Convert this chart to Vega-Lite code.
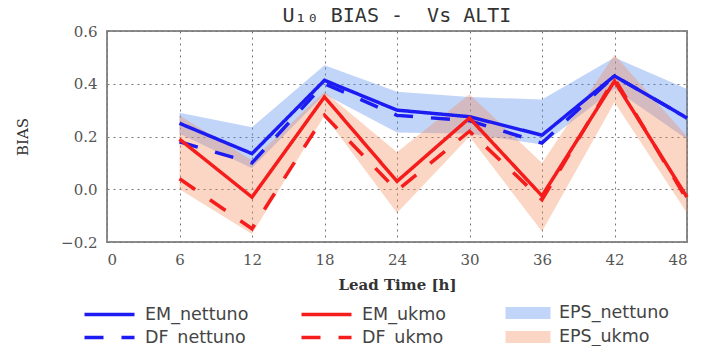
{
  "$schema": "https://vega.github.io/schema/vega-lite/v6.json",
  "autosize": "none",
  "width": 580,
  "height": 211,
  "padding": {"left": 107, "top": 31, "right": 16, "bottom": 104},
  "title": {"text": "U₁₀ BIAS -\u00a0\u00a0Vs ALTI", "font": "DejaVu Sans Mono", "fontSize": 20, "fontWeight": "normal", "color": "#333", "offset": -2},
  "config": {
    "view": {"stroke": "#8c8c8c", "strokeWidth": 2},
    "axis": {
      "labelFont": "DejaVu Serif", "labelFontSize": 15, "labelColor": "#555",
      "titleFont": "DejaVu Serif", "titleFontSize": 15, "titleColor": "#333", "titleFontWeight": "bold",
      "grid": true, "gridDash": [2, 4], "gridColor": "#777", "gridWidth": 1,
      "domain": false, "ticks": false,
      "labelPadding": 10
    },
    "legend": {"labelFont": "DejaVu Sans", "labelFontSize": 17.5, "labelColor": "#444", "padding": 0, "rowPadding": 0}
  },
  "data": {"values": [
    {"t": 6, "series": "EM_nettuno", "value": 0.25},
    {"t": 12, "series": "EM_nettuno", "value": 0.135},
    {"t": 18, "series": "EM_nettuno", "value": 0.413},
    {"t": 24, "series": "EM_nettuno", "value": 0.30},
    {"t": 30, "series": "EM_nettuno", "value": 0.275},
    {"t": 36, "series": "EM_nettuno", "value": 0.205},
    {"t": 42, "series": "EM_nettuno", "value": 0.43},
    {"t": 48, "series": "EM_nettuno", "value": 0.27},
    {"t": 6, "series": "DF_nettuno", "value": 0.18},
    {"t": 12, "series": "DF_nettuno", "value": 0.10},
    {"t": 18, "series": "DF_nettuno", "value": 0.40},
    {"t": 24, "series": "DF_nettuno", "value": 0.28},
    {"t": 30, "series": "DF_nettuno", "value": 0.26},
    {"t": 36, "series": "DF_nettuno", "value": 0.175},
    {"t": 42, "series": "DF_nettuno", "value": 0.43},
    {"t": 48, "series": "DF_nettuno", "value": 0.27},
    {"t": 6, "series": "EM_ukmo", "value": 0.19},
    {"t": 12, "series": "EM_ukmo", "value": -0.03},
    {"t": 18, "series": "EM_ukmo", "value": 0.35},
    {"t": 24, "series": "EM_ukmo", "value": 0.03},
    {"t": 30, "series": "EM_ukmo", "value": 0.27},
    {"t": 36, "series": "EM_ukmo", "value": -0.025},
    {"t": 42, "series": "EM_ukmo", "value": 0.41},
    {"t": 48, "series": "EM_ukmo", "value": -0.03},
    {"t": 6, "series": "DF_ukmo", "value": 0.04},
    {"t": 12, "series": "DF_ukmo", "value": -0.15},
    {"t": 18, "series": "DF_ukmo", "value": 0.28},
    {"t": 24, "series": "DF_ukmo", "value": -0.005},
    {"t": 30, "series": "DF_ukmo", "value": 0.22},
    {"t": 36, "series": "DF_ukmo", "value": -0.04},
    {"t": 42, "series": "DF_ukmo", "value": 0.42},
    {"t": 48, "series": "DF_ukmo", "value": -0.04},
    {"t": 6, "series": "EPS_nettuno", "lo": 0.21, "hi": 0.29},
    {"t": 12, "series": "EPS_nettuno", "lo": 0.08, "hi": 0.235},
    {"t": 18, "series": "EPS_nettuno", "lo": 0.36, "hi": 0.47},
    {"t": 24, "series": "EPS_nettuno", "lo": 0.215, "hi": 0.37},
    {"t": 30, "series": "EPS_nettuno", "lo": 0.21, "hi": 0.35},
    {"t": 36, "series": "EPS_nettuno", "lo": 0.17, "hi": 0.34},
    {"t": 42, "series": "EPS_nettuno", "lo": 0.38, "hi": 0.50},
    {"t": 48, "series": "EPS_nettuno", "lo": 0.19, "hi": 0.38},
    {"t": 6, "series": "EPS_ukmo", "lo": 0.0, "hi": 0.28},
    {"t": 12, "series": "EPS_ukmo", "lo": -0.17, "hi": 0.11},
    {"t": 18, "series": "EPS_ukmo", "lo": 0.28, "hi": 0.37},
    {"t": 24, "series": "EPS_ukmo", "lo": -0.09, "hi": 0.14},
    {"t": 30, "series": "EPS_ukmo", "lo": 0.20, "hi": 0.36},
    {"t": 36, "series": "EPS_ukmo", "lo": -0.16, "hi": 0.10},
    {"t": 42, "series": "EPS_ukmo", "lo": 0.33, "hi": 0.51},
    {"t": 48, "series": "EPS_ukmo", "lo": -0.09, "hi": 0.20}
  ]},
  "encoding": {
    "x": {"field": "t", "type": "quantitative", "scale": {"domain": [0, 48], "nice": false},
      "axis": {"values": [0, 6, 12, 18, 24, 30, 36, 42, 48], "title": "Lead Time [h]", "titlePadding": 10}}
  },
  "layer": [
    {
      "transform": [{"filter": "isValid(datum.lo)"}],
      "mark": {"type": "area", "opacity": 0.35},
      "encoding": {
        "y": {"field": "lo", "type": "quantitative", "scale": {"domain": [-0.2, 0.6], "nice": false},
          "axis": {"values": [-0.2, -0.1, 0, 0.1, 0.2, 0.3, 0.4, 0.5, 0.6], "format": ".1f", "title": "BIAS", "titleFontWeight": "normal", "titlePadding": 30}},
        "y2": {"field": "hi"},
        "fill": {"field": "series", "type": "nominal",
          "scale": {"domain": ["EPS_nettuno", "EPS_ukmo"], "range": ["#4d88ee", "#f58a5a"]},
          "legend": {"orient": "none", "legendX": 406, "legendY": 267, "title": null,
            "symbolType": "M-1.5,-0.4H1.5V0.4H-1.5Z", "symbolSize": 900, "symbolStrokeWidth": 0,
            "labelOffset": 16, "rowPadding": -5}}
      }
    },
    {
      "transform": [{"filter": "isValid(datum.value)"}],
      "mark": {"type": "line", "strokeWidth": 3.5},
      "encoding": {
        "y": {"field": "value", "type": "quantitative"},
        "stroke": {"field": "series", "type": "nominal",
          "scale": {"domain": ["EM_nettuno", "DF_nettuno", "EM_ukmo", "DF_ukmo"], "range": ["#1c1cf2", "#1c1cf2", "#f51c1c", "#f51c1c"]},
          "legend": {"orient": "none", "legendX": -12, "legendY": 269, "columns": 2, "title": null,
            "symbolType": "M-2,0H2", "symbolSize": 625, "symbolStrokeWidth": 3.5, "labelOffset": 21, "columnPadding": 45}},
        "strokeDash": {"field": "series", "type": "nominal",
          "scale": {"domain": ["EM_nettuno", "DF_nettuno", "EM_ukmo", "DF_ukmo"],
            "range": [[1, 0], [19, 18], [1, 0], [19, 18]]}}
      }
    }
  ]
}
